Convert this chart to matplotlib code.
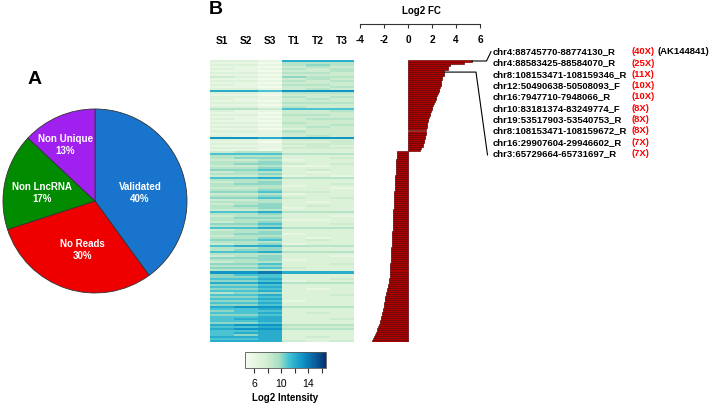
import numpy as np
import matplotlib
matplotlib.use("Agg")
import matplotlib.pyplot as plt
from matplotlib.colors import LinearSegmentedColormap
from matplotlib.lines import Line2D

plt.rcParams['font.family'] = ['Liberation Sans', 'DejaVu Sans']
plt.rcParams['axes.unicode_minus'] = False

# ---------------- data ----------------
pie_labels = ["Validated", "No Reads", "Non LncRNA", "Non Unique"]
pie_values = [40, 30, 17, 13]
pie_colors = ["#1874CD", "#EE0000", "#008B00", "#A020F0"]

samples = ["S1", "S2", "S3", "T1", "T2", "T3"]

# log2 fold change per row (top to bottom)
log2_fc_up = [5.32, 4.64, 3.46, 3.32, 3.32, 3.00, 3.00, 3.00, 2.81, 2.81,
              2.78, 2.75, 2.72, 2.68, 2.62, 2.55, 2.48, 2.42, 2.36, 2.30,
              2.22, 2.15, 2.08, 2.02, 1.96, 1.92, 1.86, 1.80, 1.75, 1.70,
              1.66, 1.62, 1.58, 1.55, 1.52, 1.49, 1.46, 1.43, 1.40, 1.37,
              1.33, 1.28, 1.22, 1.12, 1.02]
log2_fc_down = [-0.92, -0.93, -0.94, -0.95, -0.96, -0.98, -0.99, -1.00, -1.01, -1.02,
                -1.03, -1.04, -1.05, -1.06, -1.07, -1.08, -1.09, -1.10, -1.11, -1.12,
                -1.13, -1.14, -1.15, -1.15, -1.16, -1.17, -1.18, -1.19, -1.20, -1.21,
                -1.22, -1.23, -1.23, -1.24, -1.25, -1.26, -1.27, -1.27, -1.28, -1.29,
                -1.30, -1.31, -1.32, -1.33, -1.34, -1.35, -1.36, -1.37, -1.38, -1.39,
                -1.40, -1.41, -1.42, -1.43, -1.44, -1.45, -1.46, -1.47, -1.48, -1.49,
                -1.50, -1.51, -1.53, -1.55, -1.57, -1.60, -1.64, -1.68, -1.73, -1.78,
                -1.83, -1.86, -1.89, -1.92, -1.95, -1.98, -2.01, -2.04, -2.07, -2.10,
                -2.13, -2.17, -2.21, -2.26, -2.31, -2.36, -2.42, -2.48, -2.55, -2.62,
                -2.68, -2.74, -2.80, -2.88, -3.00]

# log2 intensity per row: S1, S2, S3, T1, T2, T3
heat_up = [
    [7, 7, 6, 12, 12, 12], [6, 6, 5, 9, 9, 9], [7, 7, 6, 9, 10, 9], [6, 6, 5, 8, 9, 8],
    [7, 6, 6, 9, 8, 9], [6, 6, 5, 8, 8, 9], [7, 7, 6, 9, 9, 8], [6, 6, 5, 8, 8, 8],
    [8, 7, 6, 10, 9, 9], [6, 6, 5, 8, 9, 8], [7, 7, 6, 9, 8, 9], [6, 6, 5, 8, 8, 8],
    [7, 6, 6, 9, 9, 8], [6, 6, 5, 8, 8, 9], [7, 7, 6, 8, 9, 8], [12, 12, 11, 13, 13, 13],
    [7, 7, 6, 9, 9, 9], [6, 6, 5, 8, 8, 8], [7, 7, 6, 9, 8, 9], [7, 6, 6, 8, 9, 8],
    [6, 6, 5, 8, 8, 8], [7, 7, 6, 9, 9, 9], [6, 6, 5, 8, 8, 8], [7, 7, 6, 9, 8, 8],
    [9, 9, 8, 11, 11, 11], [7, 6, 6, 8, 8, 9], [6, 6, 5, 8, 8, 8], [7, 7, 6, 9, 9, 8],
    [6, 6, 5, 8, 8, 8], [7, 6, 6, 8, 9, 9], [6, 6, 5, 8, 8, 8], [7, 7, 6, 9, 8, 8],
    [6, 6, 5, 8, 8, 9], [7, 7, 6, 8, 9, 8], [6, 6, 5, 7, 8, 8], [7, 7, 6, 9, 8, 8],
    [6, 6, 6, 8, 8, 8], [7, 6, 6, 8, 9, 8], [13, 13, 12, 13, 13, 13], [7, 7, 6, 8, 8, 8],
    [6, 6, 5, 7, 7, 8], [7, 7, 6, 8, 8, 8], [6, 6, 6, 7, 8, 7], [7, 7, 6, 8, 8, 8],
    [6, 6, 5, 7, 7, 7],
]
heat_down = [
    [8, 9, 9, 7, 7, 7], [11, 11, 11, 9, 9, 9], [9, 9, 9, 7, 7, 7], [9, 10, 10, 7, 7, 8],
    [8, 8, 9, 6, 7, 7], [9, 9, 10, 7, 7, 7], [9, 10, 10, 8, 7, 8], [8, 8, 9, 6, 6, 7],
    [9, 9, 10, 7, 7, 7], [10, 10, 11, 7, 8, 7], [8, 9, 9, 7, 6, 7], [9, 9, 10, 7, 7, 7],
    [8, 8, 9, 6, 7, 6], [11, 11, 12, 9, 9, 9], [9, 9, 9, 7, 7, 7], [8, 9, 10, 7, 7, 7],
    [9, 10, 10, 7, 7, 8], [9, 9, 9, 6, 7, 7], [8, 8, 9, 7, 7, 6], [9, 9, 10, 7, 7, 7],
    [10, 10, 11, 8, 8, 7], [8, 8, 9, 6, 7, 7], [9, 9, 10, 7, 7, 7], [10, 10, 11, 8, 7, 8],
    [8, 8, 9, 7, 7, 7], [9, 9, 9, 7, 6, 7], [8, 9, 10, 7, 7, 7], [9, 10, 10, 7, 8, 7],
    [9, 9, 10, 6, 7, 7], [8, 8, 9, 7, 7, 7], [11, 11, 12, 9, 9, 9], [9, 9, 10, 7, 7, 7],
    [8, 9, 9, 7, 7, 6], [9, 10, 10, 7, 7, 7], [9, 9, 9, 6, 6, 7], [8, 9, 10, 7, 7, 7],
    [10, 10, 11, 7, 7, 8], [9, 9, 10, 7, 7, 7], [11, 11, 12, 9, 9, 9], [8, 9, 9, 7, 7, 7],
    [9, 9, 10, 7, 7, 7], [9, 10, 10, 6, 7, 7], [8, 9, 9, 7, 7, 7], [9, 9, 10, 7, 6, 7],
    [10, 10, 11, 7, 8, 7], [9, 9, 9, 7, 7, 7], [8, 9, 10, 6, 7, 7], [11, 12, 12, 9, 9, 9],
    [9, 9, 10, 7, 7, 7], [9, 10, 10, 7, 7, 7], [11, 11, 12, 9, 9, 9], [9, 9, 9, 7, 7, 7],
    [8, 9, 10, 7, 7, 6], [10, 10, 10, 7, 7, 7], [9, 9, 10, 6, 7, 7], [8, 9, 9, 7, 7, 7],
    [10, 10, 11, 7, 7, 8], [9, 9, 10, 7, 7, 7], [10, 10, 11, 8, 7, 7], [9, 9, 9, 7, 7, 7],
    [13, 13, 14, 12, 12, 12], [10, 11, 11, 7, 7, 7], [10, 10, 11, 7, 7, 7], [11, 11, 12, 7, 7, 8],
    [10, 10, 11, 6, 7, 7], [12, 12, 13, 9, 9, 9], [10, 10, 11, 7, 7, 7], [11, 11, 12, 7, 7, 7],
    [10, 10, 11, 7, 6, 7], [11, 11, 12, 7, 7, 7], [9, 10, 10, 7, 7, 7], [11, 11, 12, 7, 7, 8],
    [10, 10, 11, 7, 7, 7], [11, 11, 12, 7, 7, 7], [10, 10, 11, 6, 7, 7], [11, 11, 12, 7, 7, 7],
    [10, 10, 11, 7, 7, 7], [12, 13, 13, 9, 9, 9], [11, 11, 12, 7, 7, 7], [10, 11, 11, 7, 7, 7],
    [11, 11, 12, 7, 8, 7], [10, 10, 11, 7, 7, 7], [11, 11, 12, 7, 7, 7], [11, 12, 12, 7, 7, 8],
    [11, 11, 12, 7, 7, 7], [10, 10, 11, 7, 7, 7], [12, 13, 13, 9, 9, 9], [11, 11, 12, 8, 8, 8],
    [12, 13, 13, 9, 9, 9], [11, 11, 12, 7, 7, 7], [11, 12, 12, 7, 7, 7], [11, 10, 12, 7, 7, 7],
    [12, 12, 12, 7, 8, 7], [11, 11, 12, 7, 7, 7], [12, 12, 12, 8, 7, 8],
]

fc_ticks = [-4, -2, 0, 2, 4, 6]
cbar_ticks = [6, 8, 10, 12, 14, 16]
cbar_ticklabels = ["6", "", "10", "", "14", ""]

top_names = ["chr4:88745770-88774130_R", "chr4:88583425-88584070_R",
             "chr8:108153471-108159346_R", "chr12:50490638-50508093_F",
             "chr16:7947710-7948066_R", "chr10:83181374-83249774_F",
             "chr19:53517903-53540753_R", "chr8:108153471-108159672_R",
             "chr16:29907604-29946602_R", "chr3:65729664-65731697_R"]
top_folds = ["(40X)", "(25X)", "(11X)", "(10X)", "(10X)", "(8X)", "(8X)", "(8X)", "(7X)", "(7X)"]

# ---------------- figure ----------------
W, H = 713, 404
fig = plt.figure(figsize=(W / 100, H / 100), dpi=100)


def fx(px):
    return px / W


def fy(py):
    return 1 - py / H


FS = 7.0
BOLD = dict(fontsize=FS, fontweight='bold')
LBL = dict(fontsize=6.8, fontweight='bold')

# ----- Pie (A) -----
ax_pie = fig.add_axes([fx(3), fy(293), 184 / W, 184 / H])
wedges, _ = ax_pie.pie(pie_values, colors=pie_colors, startangle=90, counterclock=False,
                       wedgeprops=dict(edgecolor='#333333', linewidth=0.6))
ax_pie.set_xlim(-1.0, 1.0)
ax_pie.set_ylim(-1.0, 1.0)
label_xy = [(0.49, 0.09), (-0.14, -0.53), (-0.58, 0.085), (-0.32, 0.61)]
for lab, val, (lx, ly) in zip(pie_labels, pie_values, label_xy):
    ax_pie.text(lx, ly, f"{lab}\n{val}%", ha='center', va='center', color='white',
                linespacing=1.25, **BOLD)
fig.text(fx(35), fy(79), "A", ha='center', va='center', fontsize=14, fontweight='bold')

# ----- Heatmap (B) -----
heat = np.array(heat_up + heat_down, dtype=float)
N = heat.shape[0]
cmap = LinearSegmentedColormap.from_list(
    "heat", [(0.0, '#f7fcf0'), (0.25, '#d5efd2'), (0.42, '#a8dfc4'), (0.55, '#3fc0d2'),
             (0.7, '#1196c8'), (0.85, '#0a63a3'), (1.0, '#08306b')])
ax_h = fig.add_axes([fx(210), fy(342), 144 / W, 282 / H])
im = ax_h.imshow(heat, cmap=cmap, vmin=4.6, vmax=16.6, aspect='auto', interpolation='nearest')
ax_h.set_xticks([])
ax_h.set_yticks([])
for s in ax_h.spines.values():
    s.set_visible(False)
trans = ax_h.get_xaxis_transform()
for i, name in enumerate(samples):
    ax_h.text(i, 1 + (60 - 41) / 282, name, transform=trans, ha='center', va='center',
              fontsize=7.3, fontweight='bold')
fig.text(fx(215.5), fy(10), "B", ha='center', va='center', fontsize=14, fontweight='bold')

# colorbar
cax = fig.add_axes([fx(245), fy(368), 81 / W, 16 / H])
cb = fig.colorbar(im, cax=cax, orientation='horizontal', ticks=cbar_ticks)
cb.set_ticklabels(cbar_ticklabels)
cax.tick_params(length=3.8, width=0.8, labelsize=7.5, pad=4, color='#333333')
cb.outline.set_linewidth(0.6)
cb.outline.set_edgecolor('#555555')
fig.text(fx(285), fy(398), "Log2 Intensity", ha='center', va='center', **BOLD)

# ----- Bars -----
fc = np.array(log2_fc_up + log2_fc_down)
rows = np.arange(N)
ax_b = fig.add_axes([fx(360), fy(342), 120 / W, 282 / H])
ax_b.barh(rows, fc, height=1.0, color='#b00000', edgecolor='#5a0000', linewidth=0.45)
ax_b.set_xlim(-4, 6)
ax_b.set_ylim(N - 0.5, -0.5)
ax_b.axis('off')

# scale axis for log2 FC
ax_s = fig.add_axes([fx(360), fy(24), 120 / W, 1 / H])
ax_s.set_xlim(-4, 6)
ax_s.set_ylim(0, 1)
ax_s.set_xticks(fc_ticks)
ax_s.set_yticks([])
for side in ['top', 'left', 'right']:
    ax_s.spines[side].set_visible(False)
ax_s.spines['bottom'].set_linewidth(0.8)
ax_s.spines['bottom'].set_color('#333333')
ax_s.patch.set_visible(False)
ax_s.tick_params(axis='x', direction='out', length=3.0, width=0.8, color='#333333', pad=5.0)
for t in ax_s.get_xticklabels():
    t.set_fontsize(7.2)
    t.set_fontweight('bold')
fig.text(fx(421), fy(11), "Log2 FC", ha='center', va='center', **BOLD)

# ----- labels for top hits -----
label_y = [51.7 + 11.3 * i for i in range(len(top_names))]
for i, (nm, fd) in enumerate(zip(top_names, top_folds)):
    fig.text(fx(493), fy(label_y[i]), nm, ha='left', va='center', **LBL)
    fig.text(fx(632), fy(label_y[i]), fd, ha='left', va='center', color='#ff0000', **LBL)
fig.text(fx(658), fy(label_y[0]), "(AK144841)", ha='left', va='center', **LBL)


def d2f(ax, x, y):
    d = ax.transData.transform((x, y))
    return fig.transFigure.inverted().transform(d)


p0 = d2f(ax_b, fc[0] + 0.05, 0)
l1 = Line2D([p0[0], fx(486.5), fx(491)], [p0[1], p0[1], fy(label_y[0])],
            transform=fig.transFigure, color='black', lw=0.8)
p1 = d2f(ax_b, fc[5] + 0.05, 5.5)
l2 = Line2D([p1[0], fx(476), fx(487.5)], [p1[1], p1[1], fy(label_y[-1] + 1.5)],
            transform=fig.transFigure, color='black', lw=0.8)
fig.add_artist(l1)
fig.add_artist(l2)

fig.savefig("out.png", dpi=100)
